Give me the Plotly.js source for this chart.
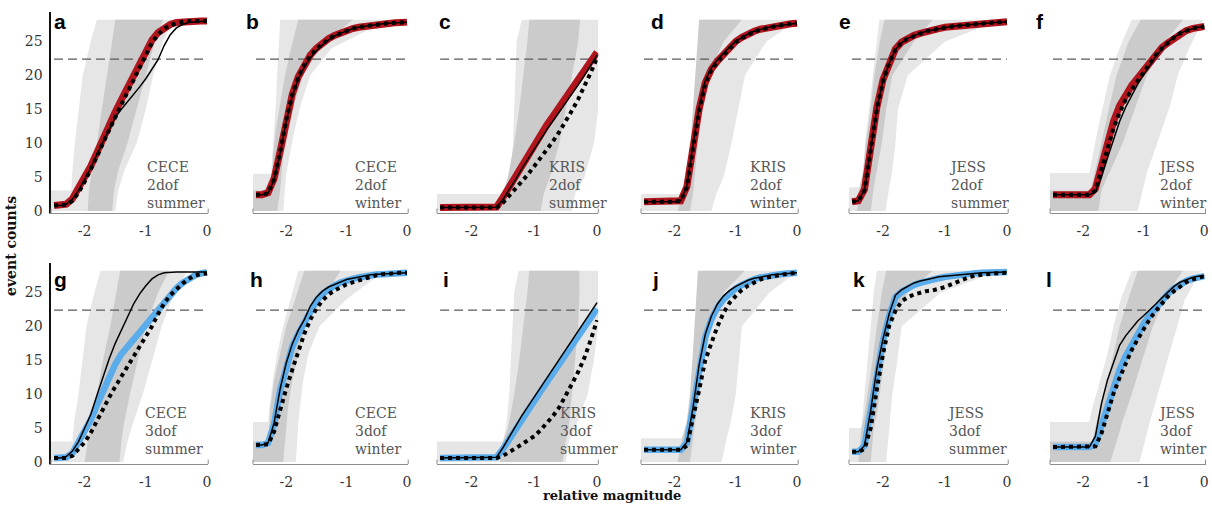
<!DOCTYPE html>
<html><head><meta charset="utf-8">
<script src="https://cdn.plot.ly/plotly-3.0.1.min.js"></script>
<style>html,body{margin:0;padding:0;background:#fff}#chart{width:1212px;height:506px}</style>
</head><body><div id="chart"></div>
<script>
// ---------------- data ----------------
const magnitudes = [-2.5,-2.4,-2.3,-2.2,-2.1,-2.0,-1.9,-1.8,-1.7,-1.6,-1.5,-1.4,-1.3,-1.2,-1.1,-1.0,-0.9,-0.8,-0.7,-0.6,-0.5,-0.4,-0.3,-0.2,-0.1,0];
const panelLetters = ['a','b','c','d','e','f','g','h','i','j','k','l'];
const stations = ['CECE','CECE','KRIS','KRIS','JESS','JESS'];
const models = ['2dof','3dof'];
const seasons = ['summer','winter','summer','winter','summer','winter'];
const threshold = 22.4;
const yTicks = [0,5,10,15,20,25];
const xTicks = [-2,-1,0];

// thick coloured curve (red: 2dof, blue: 3dof)
const thickCounts = [
 [0.8,0.8,1.0,1.8,3.2,5.0,6.6,8.7,10.7,12.7,14.6,16.4,18.2,20.0,21.9,23.7,25.2,26.3,27.0,27.5,27.8,27.9,28.0,28.0,28.0,28.0],
 [2.4,2.4,2.7,4.8,8.8,13.5,17.2,19.8,21.6,23.0,24.0,24.8,25.4,25.9,26.3,26.6,26.9,27.1,27.25,27.4,27.5,27.6,27.7,27.75,27.8,27.85],
 [0.5,0.5,0.5,0.5,0.5,0.5,0.5,0.5,0.5,0.6,2.0,3.6,5.2,6.8,8.4,9.9,11.3,12.7,14.0,15.3,16.6,17.9,19.2,20.6,22.0,23.4],
 [1.35,1.35,1.35,1.35,1.35,1.35,1.5,3.6,9.5,15.0,18.9,20.9,22.1,23.1,24.1,25.0,25.6,26.1,26.5,26.8,27.0,27.2,27.35,27.5,27.6,27.7],
 [1.35,1.5,3.2,9.0,15.3,19.4,21.9,23.9,24.9,25.5,25.9,26.2,26.5,26.7,26.9,27.1,27.2,27.3,27.4,27.5,27.6,27.7,27.75,27.8,27.85,27.9],
 [2.4,2.4,2.4,2.4,2.4,2.4,2.4,3.3,6.8,10.2,13.2,15.5,17.2,18.5,19.6,20.8,22.0,23.2,24.1,24.8,25.5,26.1,26.6,26.9,27.1,27.2],
 [0.6,0.6,0.7,1.3,2.8,4.4,6.2,8.4,10.6,12.6,14.4,15.9,17.0,18.1,19.2,20.4,21.5,22.5,23.5,24.6,25.6,26.4,27.0,27.5,27.8,28.0],
 [2.5,2.5,2.8,5.6,10.6,14.3,17.0,18.9,20.6,22.5,23.8,24.8,25.5,26.0,26.45,26.8,27.0,27.2,27.4,27.55,27.65,27.7,27.75,27.8,27.85,27.9],
 [0.6,0.6,0.6,0.6,0.6,0.6,0.6,0.6,0.6,0.7,1.9,3.4,4.9,6.3,7.7,9.0,10.4,11.8,13.1,14.4,15.8,17.1,18.4,19.8,21.2,22.6],
 [1.8,1.8,1.8,1.8,1.8,1.8,1.8,2.8,7.8,14.0,18.4,21.0,22.8,24.0,24.9,25.6,26.1,26.6,26.95,27.2,27.4,27.55,27.65,27.75,27.85,27.9],
 [1.5,1.5,2.4,7.5,13.6,17.9,21.6,24.3,25.1,25.7,26.1,26.4,26.7,26.9,27.1,27.3,27.45,27.6,27.7,27.8,27.85,27.9,27.95,28.0,28.0,28.0],
 [2.2,2.2,2.2,2.2,2.2,2.2,2.2,2.6,5.5,8.6,11.5,13.6,15.6,17.3,18.9,20.4,21.7,22.8,23.8,24.8,25.6,26.2,26.7,27.0,27.25,27.4]
];
// thin black curve
const thinCounts = [
 [0.8,0.8,1.0,1.7,3.0,4.6,6.3,8.3,10.2,12.0,13.8,15.0,16.1,17.1,18.3,19.5,20.9,22.3,24.4,26.0,27.0,27.5,27.8,27.9,28.0,28.0],
 [2.4,2.4,2.6,4.6,8.5,13.2,16.9,19.5,21.2,22.6,23.6,24.5,25.2,25.8,26.2,26.6,26.9,27.1,27.25,27.4,27.5,27.6,27.7,27.75,27.8,27.85],
 [0.5,0.5,0.5,0.5,0.5,0.5,0.5,0.5,0.5,0.55,1.7,3.1,4.6,6.2,7.7,9.2,10.6,12.0,13.3,14.6,15.9,17.2,18.6,20.0,21.5,23.0],
 [1.35,1.35,1.35,1.35,1.35,1.35,1.5,3.7,9.7,15.3,19.2,21.1,22.3,23.3,24.2,25.0,25.6,26.1,26.5,26.8,27.0,27.2,27.35,27.5,27.6,27.7],
 [1.35,1.5,3.1,8.8,15.1,19.3,21.8,23.8,24.8,25.45,25.85,26.2,26.5,26.7,26.9,27.1,27.2,27.3,27.4,27.5,27.6,27.7,27.75,27.8,27.85,27.9],
 [2.4,2.4,2.4,2.4,2.4,2.4,2.4,2.8,5.0,7.8,10.6,13.2,15.3,17.1,18.7,20.1,21.5,22.8,23.9,24.9,25.6,26.2,26.6,26.9,27.1,27.2],
 [0.6,0.6,0.8,1.6,3.0,5.0,7.0,9.8,12.6,15.2,17.5,19.5,21.5,23.3,24.8,26.0,27.0,27.6,27.9,28.0,28.0,28.0,28.0,28.0,28.0,28.0],
 [2.5,2.5,2.8,5.8,10.8,14.6,17.4,19.4,21.0,23.0,24.3,25.2,25.8,26.2,26.6,26.9,27.1,27.3,27.45,27.6,27.7,27.75,27.8,27.85,27.9,27.9],
 [0.6,0.6,0.6,0.6,0.6,0.6,0.6,0.6,0.6,0.7,2.1,3.7,5.3,6.8,8.2,9.6,11.0,12.4,13.8,15.2,16.6,18.0,19.4,20.8,22.2,23.5],
 [1.8,1.8,1.8,1.8,1.8,1.8,1.8,2.9,8.0,14.3,18.8,21.5,23.3,24.5,25.3,25.9,26.4,26.8,27.1,27.3,27.5,27.6,27.7,27.8,27.85,27.9],
 [1.5,1.5,2.4,7.6,13.8,18.2,21.9,24.6,25.4,25.9,26.4,26.7,26.95,27.1,27.3,27.4,27.5,27.6,27.7,27.8,27.85,27.9,27.95,28.0,28.0,28.0],
 [2.2,2.2,2.2,2.2,2.2,2.2,2.2,3.8,8.6,12.1,14.8,17.2,18.6,19.7,20.8,21.6,22.4,23.3,24.2,25.1,25.9,26.5,26.9,27.2,27.4,27.5]
];
// dotted black curve
const dottedCounts = [
 [0.8,0.8,0.9,1.5,2.7,4.3,6.0,8.0,10.0,12.0,13.9,15.7,17.5,19.4,21.3,23.2,24.8,26.0,26.9,27.4,27.7,27.9,28.0,28.0,28.0,28.0],
 [2.4,2.4,2.6,4.7,8.7,13.4,17.1,19.7,21.5,22.9,23.9,24.7,25.35,25.85,26.25,26.6,26.9,27.1,27.25,27.4,27.5,27.6,27.7,27.75,27.8,27.85],
 [0.5,0.5,0.5,0.5,0.5,0.5,0.5,0.5,0.5,0.5,1.2,2.2,3.2,4.3,5.4,6.6,7.8,9.0,10.3,11.7,13.2,14.8,16.5,18.4,20.4,22.6],
 [1.35,1.35,1.35,1.35,1.35,1.35,1.5,3.5,9.3,14.8,18.8,20.8,22.0,23.0,24.0,24.9,25.5,26.0,26.45,26.75,27.0,27.2,27.35,27.5,27.6,27.7],
 [1.35,1.45,3.0,8.7,15.0,19.2,21.8,23.8,24.85,25.45,25.85,26.2,26.5,26.7,26.9,27.1,27.2,27.3,27.4,27.5,27.6,27.7,27.75,27.8,27.85,27.9],
 [2.4,2.4,2.4,2.4,2.4,2.4,2.4,3.0,6.0,9.3,12.2,14.5,16.4,17.9,19.2,20.5,21.8,23.0,24.0,24.9,25.6,26.2,26.6,26.9,27.1,27.2],
 [0.6,0.6,0.6,0.9,1.8,2.9,4.3,6.1,7.8,9.5,11.1,12.6,14.0,15.5,17.0,18.4,20.0,21.8,23.4,24.6,25.5,26.3,27.0,27.5,27.7,27.8],
 [2.5,2.5,2.6,4.5,7.8,10.8,13.6,16.5,18.9,21.0,22.6,23.8,24.7,25.3,25.8,26.2,26.5,26.8,27.1,27.35,27.55,27.7,27.8,27.85,27.9,27.9],
 [0.6,0.6,0.6,0.6,0.6,0.6,0.6,0.6,0.6,0.6,0.9,1.4,2.0,2.6,3.2,3.8,4.7,5.7,6.8,8.1,9.7,11.5,13.3,15.4,18.0,20.9],
 [1.8,1.8,1.8,1.8,1.8,1.8,1.8,2.4,6.2,10.6,15.0,17.6,20.0,22.0,23.5,24.5,25.4,26.0,26.5,26.9,27.2,27.4,27.6,27.7,27.8,27.9],
 [1.5,1.5,1.9,5.0,10.7,16.0,20.1,22.3,23.7,24.3,24.7,25.0,25.2,25.3,25.5,25.8,26.2,26.6,27.0,27.3,27.5,27.65,27.75,27.8,27.85,27.9],
 [2.2,2.2,2.2,2.2,2.2,2.2,2.2,2.3,4.2,7.0,10.1,12.4,14.6,16.5,18.1,19.7,21.1,22.3,23.4,24.4,25.2,25.9,26.5,26.9,27.2,27.4]
];
// outer (light) envelope: count levels and left/right magnitude bounds
const lightY = [
 [0,3,3,6,10,15,20,25,28.2],[0,5.5,5.5,8,12,16,20,24,28.2],[0,2.5,2.5,5,10,15,20,25,28.2],
 [0,2.5,2.5,5,10,15,20,25,28.2],[0,3.5,3.5,6,10,15,20,25,28.2],[0,5.6,5.6,8,12,16,20,24,28.2],
 [0,3,3,6,10,15,20,25,28.2],[0,5.9,5.9,8,12,16,20,24,28.2],[0,3,3,5,10,15,20,25,28.2],
 [0,3.5,3.5,6,10,15,20,25,28.2],[0,5,5,7,10,15,20,25,28.2],[0,5.9,5.9,8,12,16,20,24,28.2]
];
const lightL = [
 [-2.55,-2.55,-2.22,-2.2,-2.16,-2.1,-2.03,-1.9,-1.8],
 [-2.55,-2.55,-2.25,-2.23,-2.2,-2.17,-2.15,-2.12,-2.1],
 [-2.55,-2.55,-1.5,-1.38,-1.34,-1.32,-1.31,-1.28,-1.2],
 [-2.55,-2.55,-1.83,-1.77,-1.72,-1.68,-1.65,-1.6,-1.57],
 [-2.55,-2.55,-2.33,-2.32,-2.29,-2.23,-2.17,-2.1,-2.06],
 [-2.55,-2.55,-1.9,-1.85,-1.76,-1.66,-1.56,-1.4,-1.2],
 [-2.55,-2.55,-2.2,-2.17,-2.1,-2.04,-1.97,-1.84,-1.74],
 [-2.55,-2.55,-2.3,-2.28,-2.22,-2.15,-2.05,-1.93,-1.8],
 [-2.55,-2.55,-1.5,-1.45,-1.4,-1.37,-1.35,-1.32,-1.25],
 [-2.55,-2.55,-1.85,-1.8,-1.73,-1.69,-1.66,-1.6,-1.55],
 [-2.55,-2.55,-2.35,-2.33,-2.3,-2.25,-2.2,-2.15,-2.1],
 [-2.55,-2.55,-1.9,-1.85,-1.72,-1.6,-1.5,-1.38,-1.2]
];
const lightR = [
 [-1.5,-1.45,-1.45,-1.35,-1.15,-1.0,-0.88,-0.72,-0.55],
 [-2.05,-2.0,-2.0,-1.95,-1.86,-1.75,-1.6,-1.25,-0.3],
 [-0.4,-0.35,-0.35,-0.2,-0.05,0.02,0.02,0.02,0.02],
 [-1.4,-1.32,-1.32,-1.2,-1.07,-0.96,-0.85,-0.5,0.02],
 [-1.96,-1.9,-1.9,-1.85,-1.8,-1.76,-1.6,-1.0,-0.1],
 [-1.1,-0.95,-0.95,-0.85,-0.7,-0.55,-0.44,-0.25,-0.02],
 [-1.37,-1.3,-1.3,-1.2,-1.05,-0.9,-0.74,-0.53,-0.32],
 [-1.84,-1.8,-1.8,-1.78,-1.72,-1.63,-1.45,-1.0,-0.37],
 [-0.5,-0.45,-0.45,-0.35,-0.15,-0.05,0.02,0.02,0.02],
 [-1.23,-1.15,-1.15,-1.08,-1.0,-0.95,-0.9,-0.45,0.02],
 [-1.95,-1.9,-1.9,-1.88,-1.85,-1.77,-1.7,-1.07,-0.13],
 [-1.07,-0.9,-0.9,-0.83,-0.7,-0.57,-0.45,-0.32,-0.05]
];
// inner (dark) envelope
const darkY = [
 [0,3,6,10,15,20,25,28.2],[0,3,3,8,12,16,20,24,28.2],[0,2.5,5,10,15,20,25,28.2],
 [0,2.5,5,10,15,20,25,28.2],[0,3.5,6,10,15,20,25,28.2],[0,3,3,6,10,15,20,25,28.2],
 [0,3,6,10,15,20,25,28.2],[0,3,3,8,12,16,20,24,28.2],[0,3,5,10,15,20,25,28.2],
 [0,3.5,6,10,15,20,25,28.2],[0,5,7,10,15,20,25,28.2],[0,3,3,6,10,15,20,25,28.2]
];
const darkL = [
 [-1.95,-1.93,-1.88,-1.8,-1.72,-1.63,-1.55,-1.5],
 [-2.55,-2.55,-2.24,-2.22,-2.17,-2.1,-2.02,-1.92,-1.8],
 [-1.55,-1.5,-1.42,-1.32,-1.24,-1.17,-1.11,-1.08],
 [-1.95,-1.88,-1.8,-1.74,-1.7,-1.66,-1.62,-1.6],
 [-2.42,-2.38,-2.32,-2.28,-2.2,-2.14,-2.05,-1.98],
 [-2.55,-2.55,-1.88,-1.8,-1.7,-1.58,-1.45,-1.25,-1.05],
 [-2.0,-1.95,-1.88,-1.8,-1.7,-1.58,-1.48,-1.42],
 [-2.55,-2.55,-2.3,-2.26,-2.2,-2.1,-2.0,-1.85,-1.7],
 [-1.55,-1.5,-1.42,-1.32,-1.24,-1.17,-1.11,-1.08],
 [-1.95,-1.88,-1.8,-1.75,-1.71,-1.68,-1.64,-1.62],
 [-2.4,-2.35,-2.3,-2.25,-2.17,-2.1,-2.02,-1.95],
 [-2.55,-2.55,-1.85,-1.78,-1.65,-1.52,-1.4,-1.22,-1.1]
];
const darkR = [
 [-1.55,-1.52,-1.45,-1.3,-1.15,-1.0,-0.85,-0.72],
 [-2.15,-2.1,-2.1,-2.05,-1.96,-1.86,-1.72,-1.45,-0.9],
 [-0.9,-0.85,-0.75,-0.6,-0.5,-0.4,-0.3,-0.27],
 [-1.75,-1.7,-1.67,-1.62,-1.55,-1.45,-1.2,-0.9],
 [-2.2,-2.15,-2.1,-2.02,-1.95,-1.85,-1.5,-1.2],
 [-1.75,-1.7,-1.7,-1.55,-1.35,-1.15,-0.95,-0.65,-0.35],
 [-1.43,-1.4,-1.35,-1.26,-1.13,-1.0,-0.8,-0.62],
 [-2.05,-2.02,-2.02,-1.97,-1.9,-1.8,-1.68,-1.4,-1.1],
 [-0.55,-0.5,-0.45,-0.4,-0.35,-0.3,-0.28,-0.28],
 [-1.75,-1.7,-1.66,-1.6,-1.55,-1.5,-1.2,-0.85],
 [-2.2,-2.15,-2.1,-2.05,-1.98,-1.92,-1.6,-1.2],
 [-1.55,-1.45,-1.45,-1.35,-1.2,-1.02,-0.85,-0.6,-0.35]
];

// ---------------- layout geometry (pixels) ----------------
const W = 1212, H = 506;
const colLeft  = [51, 253, 437, 641, 849, 1050];
const colRight = [208.2, 408.2, 598.3, 798.2, 1008.2, 1205.5];
const rowTop = [12.3, 263.3], rowBottom = [213, 464];
const labelX = [145,353,547,748,947,1156, 143,353,558,748,945,1156];
const letterX = [60,252,445,657,845,1040, 60,256,446,655,859,1049];
const letterMidY = [22, 279];
const labelBottomY = [213, 459];

const serif = 'DejaVu Serif, serif';
const colours = ['#b0141c', '#5aacea'];

const traces = [];
const layout = {
  width: W, height: H, margin: {l:0, r:0, t:0, b:0},
  paper_bgcolor: '#fff', plot_bgcolor: 'rgba(0,0,0,0)',
  showlegend: false, annotations: [], shapes: []
};

for (let p = 0; p < 12; p++) {
  const row = p < 6 ? 0 : 1, col = p % 6, n = p + 1;
  const xa = 'x' + n, ya = 'y' + n;
  const common = {xaxis: xa, yaxis: ya, hoverinfo: 'skip', showlegend: false};
  traces.push(Object.assign({
    x: lightL[p].concat(lightR[p].slice().reverse()),
    y: lightY[p].concat(lightY[p].slice().reverse()),
    mode: 'lines', fill: 'toself', fillcolor: '#e6e6e6', line: {width: 0}
  }, common));
  traces.push(Object.assign({
    x: darkL[p].concat(darkR[p].slice().reverse()),
    y: darkY[p].concat(darkY[p].slice().reverse()),
    mode: 'lines', fill: 'toself', fillcolor: '#cbcbcb', line: {width: 0}
  }, common));
  traces.push(Object.assign({
    x: [magnitudes[0], magnitudes[magnitudes.length-1]], y: [threshold, threshold],
    mode: 'lines', line: {color: '#5a5a5a', width: 1.3, dash: '9px,5px'}
  }, common));
  traces.push(Object.assign({
    x: magnitudes, y: thickCounts[p], mode: 'lines',
    line: {color: colours[row], width: row === 0 ? 7 : 6.5}
  }, common));
  traces.push(Object.assign({
    x: magnitudes, y: thinCounts[p], mode: 'lines',
    line: {color: '#000', width: 1.5}
  }, common));
  traces.push(Object.assign({
    x: magnitudes, y: dottedCounts[p], mode: 'lines',
    line: {color: '#000', width: 4, dash: '4px,4px'}
  }, common));

  const xKey = 'xaxis' + (n === 1 ? '' : n), yKey = 'yaxis' + (n === 1 ? '' : n);
  layout[xKey] = {
    domain: [colLeft[col] / W, colRight[col] / W], range: [-2.55, 0.02], anchor: ya,
    showline: true, linecolor: '#8c8c8c', linewidth: 1, mirror: false,
    tickvals: xTicks, ticktext: xTicks.map(String), ticks: 'outside', ticklen: 5,
    tickcolor: 'rgba(0,0,0,0)', tickfont: {family: serif, size: 14, color: '#333'},
    ticklabeloverflow: 'allow',
    showgrid: false, zeroline: false, fixedrange: true
  };
  layout[yKey] = {
    domain: [1 - rowBottom[row] / H, 1 - rowTop[row] / H], range: [-0.3, 29.3], anchor: xa,
    showline: col === 0, linecolor: '#111', linewidth: 2.5,
    showticklabels: col === 0, tickvals: yTicks, ticktext: yTicks.map(String),
    ticks: col === 0 ? 'outside' : '', ticklen: 3, tickcolor: 'rgba(0,0,0,0)',
    tickfont: {family: serif, size: 14, color: '#333'},
    showgrid: false, zeroline: false, fixedrange: true
  };
  [0, 1].forEach(xe => layout.shapes.push({
    type: 'line', xref: xa + ' domain', yref: ya + ' domain',
    x0: xe, x1: xe, y0: 0, y1: 0.022, line: {color: '#8c8c8c', width: 1}
  }));
  layout.annotations.push({
    text: panelLetters[p], xref: 'paper', yref: 'paper', showarrow: false,
    x: letterX[p] / W, y: 1 - letterMidY[row] / H, xanchor: 'center', yanchor: 'middle',
    font: {family: 'Liberation Sans, Arial, sans-serif', size: 21, color: '#000', weight: 'bold'}
  });
  layout.annotations.push({
    text: stations[col] + '<br>' + models[row] + '<br>' + seasons[col],
    xref: 'paper', yref: 'paper', showarrow: false, align: 'left',
    x: labelX[p] / W, y: 1 - labelBottomY[row] / H, xanchor: 'left', yanchor: 'bottom',
    font: {family: serif, size: 14, color: '#555'}
  });
}
layout.annotations.push({
  text: 'event counts', xref: 'paper', yref: 'paper', showarrow: false, textangle: -90,
  x: 11 / W, y: 1 - 246 / H, xanchor: 'center', yanchor: 'middle',
  font: {family: serif, size: 14, color: '#111', weight: 'bold'}
});
layout.annotations.push({
  text: 'relative magnitude', xref: 'paper', yref: 'paper', showarrow: false,
  x: 612 / W, y: 1 - 495 / H, xanchor: 'center', yanchor: 'middle',
  font: {family: serif, size: 13, color: '#111', weight: 'bold'}
});

Plotly.newPlot('chart', traces, layout, {staticPlot: true, displayModeBar: false});
</script>
</body></html>
